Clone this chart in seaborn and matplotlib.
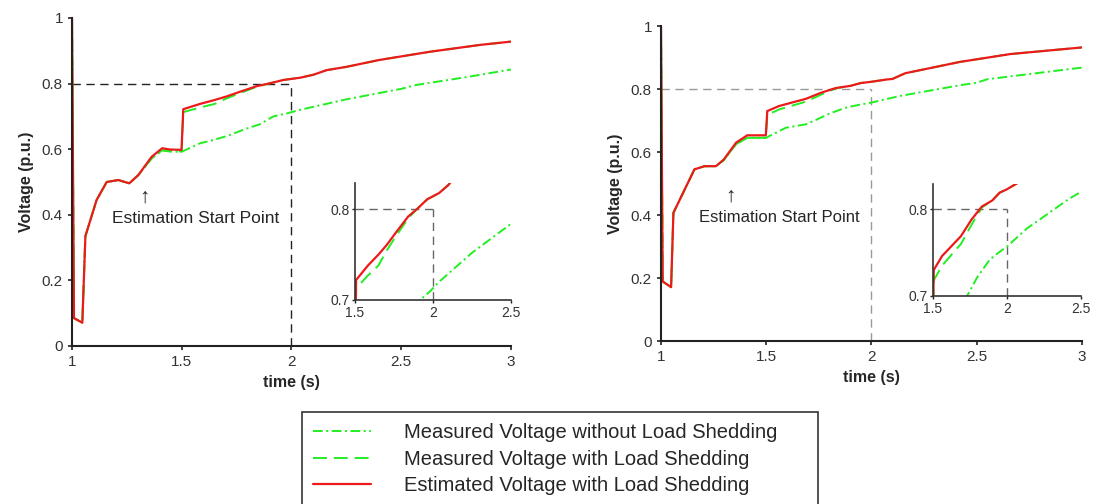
import numpy as np
import pandas as pd
import seaborn as sns
import matplotlib.pyplot as plt
from matplotlib.lines import Line2D

# ---- data ----
# left panel
t_a_without = [1.0, 1.009, 1.047, 1.061, 1.112, 1.158, 1.211, 1.261, 1.302, 1.363, 1.411, 1.446, 1.499,
               1.583, 1.644, 1.705, 1.796, 1.856, 1.917, 1.978, 2.039, 2.25, 2.5, 2.57, 2.8, 3.0]
v_a_without = [1.0, 0.085, 0.071, 0.335, 0.445, 0.500, 0.506, 0.496, 0.521, 0.572, 0.596, 0.593, 0.592,
               0.618, 0.628, 0.640, 0.663, 0.676, 0.700, 0.709, 0.720, 0.752, 0.784, 0.796, 0.820, 0.843]
t_a_with = [1.0, 1.009, 1.047, 1.061, 1.112, 1.158, 1.211, 1.261, 1.302, 1.363, 1.411, 1.446, 1.499, 1.507,
            1.583, 1.65, 1.705, 1.765, 1.841, 1.902, 1.963, 2.04, 2.10, 2.16, 2.25, 2.40, 2.63, 2.86, 3.0]
v_a_with = [1.0, 0.085, 0.071, 0.335, 0.445, 0.500, 0.506, 0.496, 0.521, 0.572, 0.597, 0.594, 0.593, 0.713,
            0.727, 0.738, 0.755, 0.771, 0.790, 0.801, 0.811, 0.818, 0.827, 0.841, 0.851, 0.872, 0.897, 0.918, 0.928]
t_a_est = [1.0, 1.009, 1.047, 1.061, 1.112, 1.158, 1.211, 1.261, 1.302, 1.363, 1.411, 1.446, 1.499, 1.507,
           1.583, 1.65, 1.705, 1.765, 1.841, 1.902, 1.963, 2.04, 2.10, 2.16, 2.25, 2.40, 2.63, 2.86, 3.0]
v_a_est = [1.0, 0.085, 0.071, 0.335, 0.445, 0.500, 0.506, 0.496, 0.521, 0.577, 0.603, 0.599, 0.598, 0.722,
           0.738, 0.750, 0.761, 0.775, 0.792, 0.801, 0.811, 0.818, 0.827, 0.841, 0.851, 0.872, 0.897, 0.918, 0.928]

# right panel
t_b_without = [1.0, 1.008, 1.048, 1.059, 1.159, 1.207, 1.261, 1.298, 1.357, 1.41, 1.498,
               1.593, 1.689, 1.74, 1.80, 1.884, 1.951, 2.0, 2.136, 2.22, 2.42, 2.5, 2.55, 3.0]
v_b_without = [1.0, 0.189, 0.171, 0.407, 0.545, 0.555, 0.555, 0.574, 0.625, 0.645, 0.645,
               0.677, 0.688, 0.703, 0.722, 0.742, 0.751, 0.757, 0.778, 0.788, 0.812, 0.820, 0.831, 0.868]
t_b_with = [1.0, 1.008, 1.048, 1.059, 1.159, 1.207, 1.261, 1.298, 1.357, 1.41, 1.498, 1.505,
            1.561, 1.689, 1.76, 1.83, 1.90, 1.95, 2.0, 2.07, 2.10, 2.16, 2.42, 2.66, 3.0]
v_b_with = [1.0, 0.189, 0.171, 0.407, 0.545, 0.555, 0.555, 0.574, 0.625, 0.645, 0.645, 0.718,
            0.735, 0.760, 0.782, 0.802, 0.810, 0.819, 0.823, 0.830, 0.832, 0.850, 0.886, 0.911, 0.932]
t_b_est = [1.0, 1.008, 1.048, 1.059, 1.159, 1.207, 1.261, 1.298, 1.357, 1.41, 1.498, 1.505,
           1.561, 1.689, 1.76, 1.83, 1.90, 1.95, 2.0, 2.07, 2.10, 2.16, 2.42, 2.66, 3.0]
v_b_est = [1.0, 0.189, 0.171, 0.407, 0.545, 0.555, 0.555, 0.576, 0.630, 0.653, 0.653, 0.730,
           0.746, 0.769, 0.788, 0.803, 0.810, 0.819, 0.823, 0.830, 0.832, 0.850, 0.886, 0.911, 0.932]

labels = ["Measured Voltage without Load Shedding",
          "Measured Voltage with Load Shedding",
          "Estimated Voltage with Load Shedding"]
ref_t, ref_v = 2.0, 0.8
start_t = 1.33

palette = {labels[0]: "#22ee22", labels[1]: "#22ee22", labels[2]: "#ec1a1a"}
dash_map = {labels[0]: (7, 2.5, 1.5, 2.5), labels[1]: (10, 5), labels[2]: ""}
size_map = {labels[0]: 1.4, labels[1]: 1.4, labels[2]: 1.6}


def make_df(series):
    frames = [pd.DataFrame({"time": t, "voltage": v, "series": name})
              for name, (t, v) in zip(labels, series)]
    return pd.concat(frames, ignore_index=True)


df_a = make_df([(t_a_without, v_a_without), (t_a_with, v_a_with), (t_a_est, v_a_est)])
df_b = make_df([(t_b_without, v_b_without), (t_b_with, v_b_with), (t_b_est, v_b_est)])

sns.set_style("ticks")
plt.rcParams["font.family"] = ["Liberation Sans", "DejaVu Sans"]
plt.rcParams["lines.scale_dashes"] = False
plt.rcParams["axes.edgecolor"] = "#222222"
plt.rcParams["xtick.color"] = "#222222"
plt.rcParams["ytick.color"] = "#222222"
plt.rcParams["xtick.labelcolor"] = "#333333"
plt.rcParams["ytick.labelcolor"] = "#333333"

fig = plt.figure(figsize=(10.96, 5.04), dpi=100)
ax_a = fig.add_axes([0.0657, 0.3135, 0.4005, 0.6508])
ax_b = fig.add_axes([0.6031, 0.3234, 0.3841, 0.6250])
in_a = fig.add_axes([0.3239, 0.4048, 0.1423, 0.2321])
in_b = fig.add_axes([0.8513, 0.4127, 0.1350, 0.2222])


def draw(ax, df):
    sns.lineplot(data=df, x="time", y="voltage", hue="series", style="series", size="series",
                 hue_order=labels, style_order=labels, size_order=labels,
                 palette=palette, dashes=dash_map, sizes=size_map,
                 estimator=None, sort=False, legend=False, ax=ax)
    ax.set_xlabel("")
    ax.set_ylabel("")


for ax, df, guide_col in [(ax_a, df_a, "#222222"), (ax_b, df_b, "#999999")]:
    draw(ax, df)
    ax.hlines(ref_v, 1, ref_t, color=guide_col, lw=1.0, linestyles=(0, (6, 4)), zorder=1)
    ax.vlines(ref_t, 0, ref_v, color=guide_col, lw=1.0, linestyles=(0, (6, 4)), zorder=1)
    ax.set_xlim(1, 3)
    ax.set_ylim(0, 1)
    ax.set_xticks([1, 1.5, 2, 2.5, 3])
    ax.set_xticklabels(["1", "1.5", "2", "2.5", "3"])
    ax.set_yticks([0, 0.2, 0.4, 0.6, 0.8, 1])
    ax.set_yticklabels(["0", "0.2", "0.4", "0.6", "0.8", "1"])
    ax.tick_params(labelsize=11, length=3, width=1.2)
    for s in ["top", "right"]:
        ax.spines[s].set_visible(False)
    for s in ["left", "bottom"]:
        ax.spines[s].set_linewidth(1.5)
    ax.set_xlabel("time (s)", fontsize=11.5, fontweight="bold", labelpad=4)
    ax.set_ylabel("Voltage (p.u.)", fontsize=11.5, fontweight="bold", labelpad=6)

ax_a.text(start_t, 0.455, "\u2191", ha="center", va="center", fontsize=15)
ax_a.text(1.563, 0.39, "Estimation Start Point", ha="center", va="center", fontsize=12.5)
ax_b.text(start_t, 0.459, "\u2191", ha="center", va="center", fontsize=15)
ax_b.text(1.561, 0.392, "Estimation Start Point", ha="center", va="center", fontsize=12)

for ax, df in [(in_a, df_a), (in_b, df_b)]:
    draw(ax, df)
    ax.set_facecolor("none")
    ax.hlines(ref_v, 1.5, ref_t, color="#666666", lw=1.0, linestyles=(0, (6, 4)), zorder=1)
    ax.vlines(ref_t, 0.7, ref_v, color="#666666", lw=1.0, linestyles=(0, (6, 4)), zorder=1)
    ax.set_xlim(1.5, 2.5)
    ax.set_ylim(0.7, 0.829)
    ax.set_xticks([1.5, 2, 2.5])
    ax.set_xticklabels(["1.5", "2", "2.5"])
    ax.set_yticks([0.7, 0.8])
    ax.set_yticklabels(["0.7", "0.8"])
    ax.tick_params(labelsize=10, length=2, width=1.0, pad=2)
    for s in ["top", "right"]:
        ax.spines[s].set_visible(False)
    for s in ["left", "bottom"]:
        ax.spines[s].set_linewidth(1.2)
        ax.spines[s].set_color("#333333")

handles = [Line2D([], [], color=palette[n], lw=size_map[n],
                  linestyle=(0, dash_map[n]) if dash_map[n] else "-") for n in labels]
fig.legend(handles, labels, loc="upper left", bbox_to_anchor=(302 / 1096, 1 - 412 / 504, 516 / 1096, 0.0),
           mode="expand", fontsize=14.5, frameon=True, fancybox=False, framealpha=1,
           edgecolor="#333333", borderpad=0.55, labelspacing=0.38, handlelength=2.9,
           handletextpad=1.6, borderaxespad=0)
fig.legends[0].get_frame().set_linewidth(1.2)

fig.savefig("out.png", dpi=100)
